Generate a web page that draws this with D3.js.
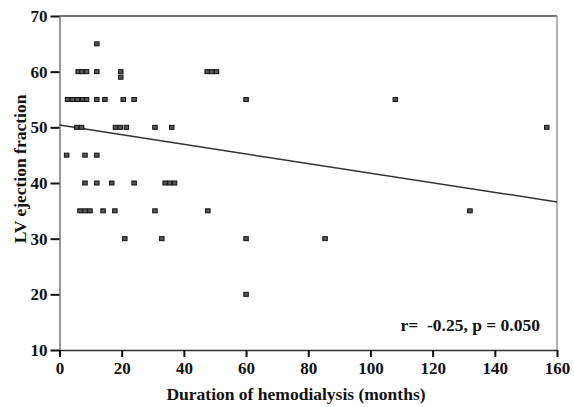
<!DOCTYPE html>
<html>
<head>
<meta charset="utf-8">
<script src="https://cdn.jsdelivr.net/npm/d3@7"></script>
<style>
body { margin: 0; background: #fff; }
text { font-family: "Liberation Serif", "Times New Roman", serif; font-weight: bold; fill: #111; }
</style>
</head>
<body>
<svg id="chart" width="574" height="407"></svg>
<script>
// duration of hemodialysis (months) and LV ejection fraction
const MONTHS = [12,
	6, 7.2, 8.7, 12, 19.7, 19.7, 47.5, 49, 50.5,
	2.6, 4.2, 5.8, 7.4, 8.7, 12, 14.6, 20.5, 24, 60, 108,
	5.6, 7.1, 18, 19.5, 21.5, 30.7, 36.1, 156.7,
	2.3, 8.2, 12,
	8.2, 12, 16.8, 24, 34, 35.5, 37,
	6.6, 8.2, 9.8, 14, 17.8, 30.7, 47.7, 132,
	21, 32.9, 60, 85.4,
	60];
const LVEF = [65,
	60, 60, 60, 60, 60, 59, 60, 60, 60,
	55, 55, 55, 55, 55, 55, 55, 55, 55, 55, 55,
	50, 50, 50, 50, 50, 50, 50, 50,
	45, 45, 45,
	40, 40, 40, 40, 40, 40, 40,
	35, 35, 35, 35, 35, 35, 35, 35,
	30, 30, 30, 30,
	20];
// regression line end points
const TREND_X = [0, 160];
const TREND_Y = [50.4, 36.6];
const X_TICKS = [0, 20, 40, 60, 80, 100, 120, 140, 160];
const Y_TICKS = [10, 20, 30, 40, 50, 60, 70];
const STAT_TEXT = "r=  -0.25, p = 0.050";

const svg = d3.select("#chart");
const x = d3.scaleLinear().domain([0, 160]).range([59.5, 557]);
const y = d3.scaleLinear().domain([10, 70]).range([350, 16]);

//frame: top and right borders
svg.append("line").attr("x1", x(0)).attr("x2", x(160)).attr("y1", y(70)).attr("y2", y(70))
	.attr("stroke", "#444").attr("stroke-width", 1.5);
svg.append("line").attr("x1", x(160)).attr("x2", x(160)).attr("y1", y(70)).attr("y2", y(10))
	.attr("stroke", "#999").attr("stroke-width", 1.5);

//axes
const yAxis = svg.append("g").attr("transform", "translate(" + x(0) + ",0)")
	.call(d3.axisLeft(y).tickValues(Y_TICKS).tickSize(9).tickPadding(3).tickSizeOuter(0));
yAxis.select(".domain").attr("stroke", "#777").attr("stroke-width", 1.5);
yAxis.selectAll(".tick line").attr("stroke", "#111").attr("stroke-width", 2);
yAxis.selectAll("text").style("font-size", "17px");

const xAxis = svg.append("g").attr("transform", "translate(0," + y(10) + ")")
	.call(d3.axisBottom(x).tickValues(X_TICKS).tickSize(7).tickPadding(5).tickSizeOuter(0));
xAxis.select(".domain").attr("stroke", "#333").attr("stroke-width", 1.5);
xAxis.selectAll(".tick line").attr("stroke", "#111").attr("stroke-width", 2);
xAxis.selectAll("text").style("font-size", "17px");

//axis titles
svg.append("text").attr("x", 296).attr("y", 400).attr("text-anchor", "middle")
	.style("font-size", "17.5px").text("Duration of hemodialysis (months)");
svg.append("text").attr("transform", "translate(26,169) rotate(-90)").attr("text-anchor", "middle")
	.style("font-size", "17.5px").text("LV ejection fraction");

//regression line
svg.append("line")
	.attr("x1", x(TREND_X[0])).attr("y1", y(TREND_Y[0]))
	.attr("x2", x(TREND_X[1])).attr("y2", y(TREND_Y[1]))
	.attr("stroke", "#333").attr("stroke-width", 1.5);

//points
svg.selectAll("rect.pt")
	.data(MONTHS.map((m, i) => ({m: m, v: LVEF[i]})))
	.enter()
	.append("rect")
	.attr("class", "pt")
	.attr("x", d => x(d.m) - 2.25)
	.attr("y", d => y(d.v) - 2)
	.attr("width", 4.5)
	.attr("height", 4)
	.attr("fill", "#555")
	.attr("stroke", "#111")
	.attr("stroke-width", 1);

//statistics
svg.append("text").attr("x", 540).attr("y", 331).attr("text-anchor", "end")
	.style("font-size", "17.5px").style("white-space", "pre").text(STAT_TEXT);
</script>
</body>
</html>
